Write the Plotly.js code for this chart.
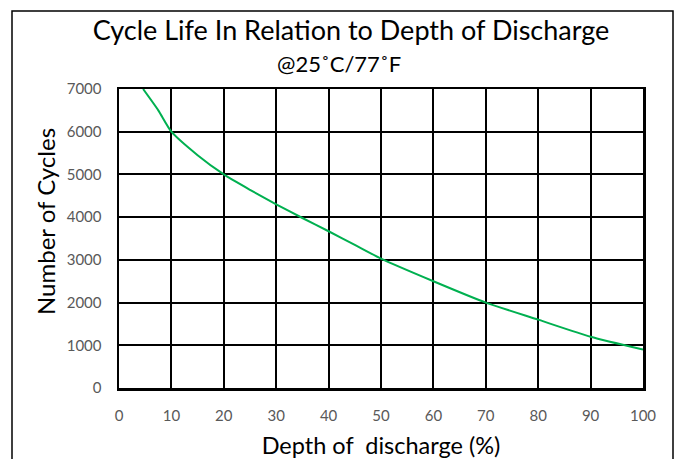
<!DOCTYPE html>
<html>
<head>
<meta charset="utf-8">
<script src="https://cdn.plot.ly/plotly-3.0.1.min.js"></script>
<style>html,body{margin:0;padding:0;background:#fff;}</style>
</head>
<body>
<div id="chart" style="width:675px;height:459px;"></div>
<script>
const depth = [4.6, 7.5, 10, 15, 20, 25, 30, 35, 40, 45, 50, 60, 70, 80, 90, 100];
const cycles = [7000, 6500, 6000, 5450, 5000, 4640, 4300, 3980, 3670, 3350, 3030, 2500, 2000, 1600, 1200, 900];
const xTicks = [0, 10, 20, 30, 40, 50, 60, 70, 80, 90, 100];
const yTicks = [0, 1000, 2000, 3000, 4000, 5000, 6000, 7000];

const FONT = 'Lato, "Open Sans", sans-serif';

const trace = {
  x: depth, y: cycles, type: 'scatter', mode: 'lines',
  line: {color: '#00b050', width: 2, shape: 'spline', smoothing: 0.6},
  hoverinfo: 'x+y'
};

const layout = {
  width: 675, height: 459,
  margin: {l: 119, r: 32, t: 89, b: 71},
  paper_bgcolor: '#ffffff', plot_bgcolor: '#ffffff',
  showlegend: false,
  font: {family: FONT, color: '#000'},
  title: {
    text: 'Cycle Life In Relation to Depth of Discharge',
    font: {family: FONT, size: 27, color: '#000'},
    x: 351 / 675, xanchor: 'center', xref: 'container',
    y: 1 - 31/459, yanchor: 'middle', yref: 'container'
  },
  annotations: [{
    text: '@25˚C/77˚F', showarrow: false,
    xref: 'paper', yref: 'paper',
    x: (338.5 - 119) / 524, xanchor: 'center',
    y: (388 - 63) / 299, yanchor: 'middle',
    font: {family: FONT, size: 22, color: '#000'}
  }, {
    text: 'Number of Cycles', showarrow: false, textangle: -90,
    xref: 'paper', yref: 'paper',
    x: (45 - 119) / 524, xanchor: 'center',
    y: (388 - 222) / 299, yanchor: 'middle',
    font: {family: FONT, size: 24, color: '#000'}
  }],
  xaxis: {
    range: [0, 100], tickvals: xTicks, ticktext: xTicks.map(String),
    showgrid: true, gridcolor: '#000', gridwidth: 2,
    showline: true, linecolor: '#000', linewidth: 2.5, mirror: true,
    zeroline: false, ticks: '', ticklabelstandoff: 12,
    tickfont: {family: FONT, size: 15, color: '#595959'},
    title: {text: 'Depth of  discharge (%)', font: {family: FONT, size: 23.5, color: '#000'}, standoff: 15}
  },
  yaxis: {
    range: [0, 7000], tickvals: yTicks, ticktext: yTicks.map(String),
    showgrid: true, gridcolor: '#000', gridwidth: 2,
    showline: true, linecolor: '#000', linewidth: 2.5, mirror: true,
    zeroline: false, ticks: '', ticklabelstandoff: 12,
    tickfont: {family: FONT, size: 15, color: '#595959'}
  },
  shapes: [{
    type: 'rect', xref: 'paper', yref: 'paper',
    x0: (12 - 119) / 524, x1: (673 - 119) / 524,
    y0: (388 - 480) / 299, y1: (388 - 11) / 299,
    line: {color: '#000', width: 1.5}, fillcolor: 'rgba(0,0,0,0)', layer: 'below'
  }]
};

Plotly.newPlot('chart', [trace], layout, {displayModeBar: false, staticPlot: true});
</script>
</body>
</html>
